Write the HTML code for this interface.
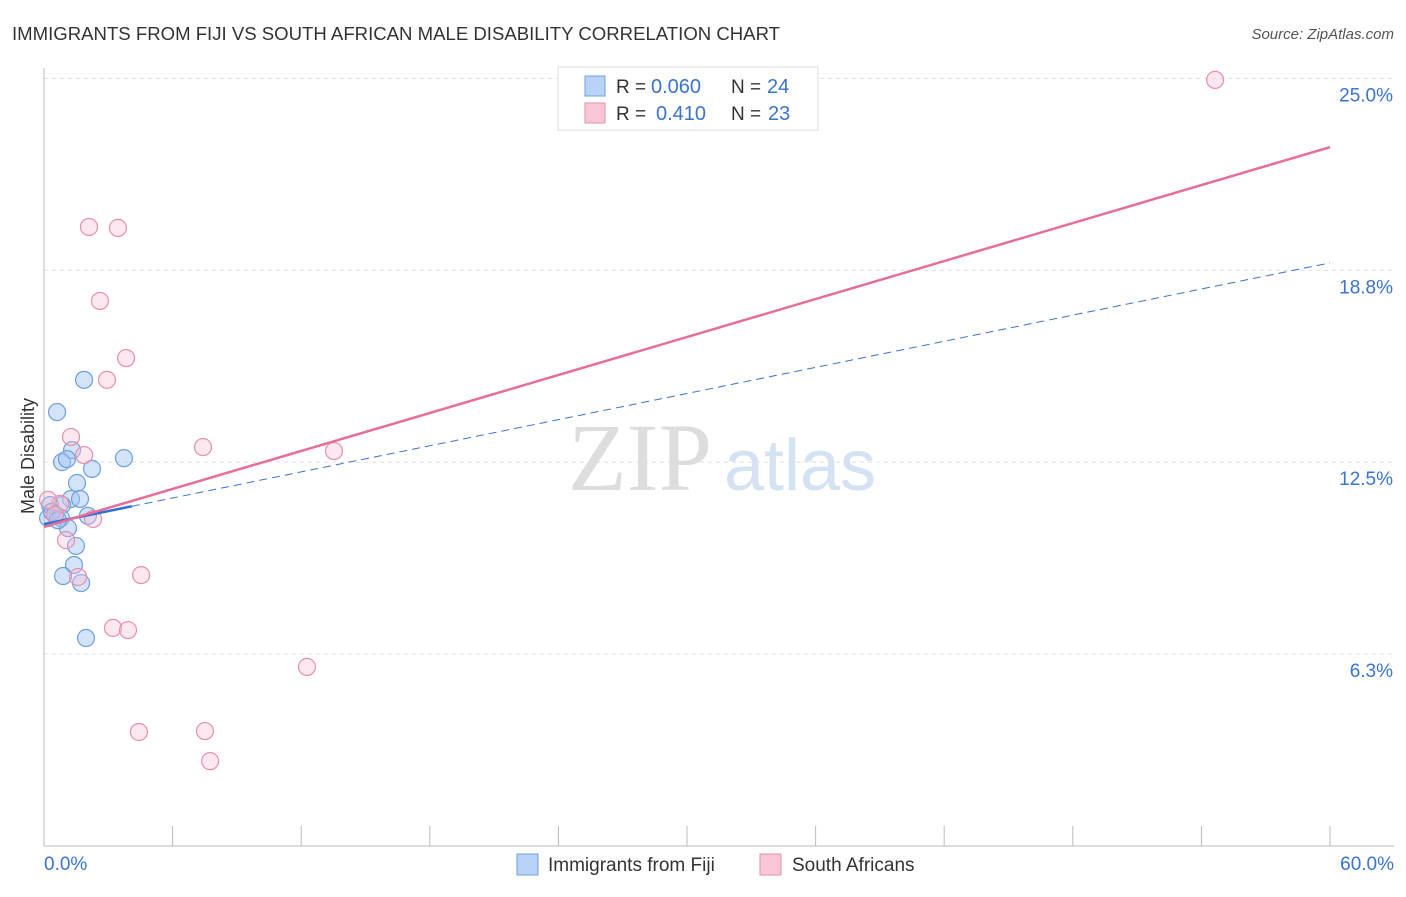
<!DOCTYPE html>
<html><head><meta charset="utf-8"><style>
body{margin:0;background:#fff;font-family:"Liberation Sans",sans-serif;}
</style></head><body>
<svg id="c" width="1406" height="892" xmlns="http://www.w3.org/2000/svg">
<text x="12" y="40" font-size="18" fill="#333" textLength="768" lengthAdjust="spacingAndGlyphs">IMMIGRANTS FROM FIJI VS SOUTH AFRICAN MALE DISABILITY CORRELATION CHART</text>
<text x="1394" y="39" font-size="15" fill="#555" font-style="italic" text-anchor="end">Source: ZipAtlas.com</text>
<text x="640" y="490" font-size="96" fill="#ddd" font-family="Liberation Serif,serif" text-anchor="middle">ZIP</text>
<text x="800" y="490" font-size="72" fill="#d4e2f4" text-anchor="middle">atlas</text>
<g id="grid"></g><g id="axes"></g><g id="marks"></g>
<text transform="translate(34,456) rotate(-90)" font-size="18" fill="#333" text-anchor="middle">Male Disability</text>
<g>
<rect x="558" y="67" width="260" height="63" fill="#fff" stroke="#ddd"/>
<rect x="585" y="76" width="20" height="20" fill="#b8d3f5" stroke="#6f9fe0"/>
<rect x="585" y="103" width="20" height="20" fill="#f8c6d6" stroke="#e98fac"/>
<text x="616" y="93" font-size="19" fill="#333">R =</text>
<text x="651" y="93" font-size="20" fill="#3a73d1">0.060</text>
<text x="731" y="93" font-size="19" fill="#333">N =</text>
<text x="767" y="93" font-size="20" fill="#3a73d1">24</text>
<text x="616" y="120" font-size="19" fill="#333">R =</text>
<text x="656" y="120" font-size="20" fill="#3a73d1">0.410</text>
<text x="731" y="120" font-size="19" fill="#333">N =</text>
<text x="768" y="120" font-size="20" fill="#3a73d1">23</text>
</g>
<g>
<rect x="517" y="854" width="21" height="21" fill="#b8d3f5" stroke="#6f9fe0"/>
<text x="548" y="871" font-size="19" fill="#333">Immigrants from Fiji</text>
<rect x="760" y="854" width="21" height="21" fill="#f8c6d6" stroke="#e98fac"/>
<text x="792" y="871" font-size="19" fill="#333">South Africans</text>
</g>
</svg>
<script>
const yTicks=[25.0,18.8,12.5,6.3];
const yTickVals=[25,18.75,12.5,6.25];
const xTickLabels=["0.0%","60.0%"];
const fijiX=[1.87,0.61,1.31,0.84,1.07,2.24,3.73,1.54,1.26,1.68,0.28,0.84,0.51,0.19,0.79,2.05,1.12,1.49,1.40,0.89,1.73,1.96,0.37,0.65];
const fijiY=[15.18,14.13,12.89,12.50,12.60,12.28,12.63,11.82,11.30,11.30,11.10,11.10,10.78,10.68,10.68,10.75,10.35,9.77,9.15,8.79,8.56,6.77,10.88,10.61];
const saX=[54.64,2.10,3.45,2.61,3.83,2.94,1.26,1.87,7.42,13.53,0.75,0.19,2.29,1.03,1.59,4.53,3.22,3.92,12.27,4.43,7.51,7.75,0.51];
const saY=[24.95,20.16,20.13,17.75,15.89,15.18,13.32,12.73,12.99,12.86,11.14,11.27,10.65,9.96,8.76,8.82,7.10,7.03,5.83,3.71,3.74,2.76,10.78];
const fijiTrend=[10.48,18.99];
const saTrend=[10.39,22.76];
const fijiSolidEnd=4.1;
const X=v=>44+v/60*1286, Y=v=>654-(v-6.25)*30.7;
const NS="http://www.w3.org/2000/svg";
function mk(p,t,a){const e=document.createElementNS(NS,t);for(const k in a)e.setAttribute(k,a[k]);document.getElementById(p).appendChild(e);return e;}
yTickVals.forEach((v,i)=>{
 const l=mk('grid','line',{x1:44,x2:1394,y1:Y(v),y2:Y(v),stroke:'#ddd','stroke-dasharray':'4,4'});
 
 
 const t=mk('grid','text',{x:1393,y:Y(v)+23,'font-size':19,fill:'#3a73d1','text-anchor':'end'});t.textContent=yTicks[i].toFixed(1)+'%';
 
 
});
let a=mk('axes','line',{x1:44,x2:44,y1:68,y2:846,stroke:'#bbb'});


a=mk('axes','line',{x1:44,x2:1394,y1:846,y2:846,stroke:'#bbb'});


for(let i=0;i<=10;i++){const t=mk('axes','line',{x1:X(i*6),x2:X(i*6),y1:826,y2:846,stroke:'#bbb'});
 
 }
[[0,"start",44],[60,"end",1394]].forEach((d,i)=>{const t=mk('axes','text',{x:d[2],y:870,'font-size':19,fill:'#3a73d1','text-anchor':d[1]});t.textContent=xTickLabels[i];
 
 });
fijiX.forEach((x,i)=>{const c=mk('marks','circle',{cx:X(x),cy:Y(fijiY[i]),r:8.5,fill:'rgba(160,195,240,0.45)',stroke:'#6f9fe0','stroke-width':1.2});
 
 });
saX.forEach((x,i)=>{const c=mk('marks','circle',{cx:X(x),cy:Y(saY[i]),r:8.5,fill:'rgba(248,190,210,0.35)',stroke:'#e98fac','stroke-width':1.2});
 
 });
const fy=x=>fijiTrend[0]+(fijiTrend[1]-fijiTrend[0])*x/60;
let l=mk('marks','line',{x1:X(fijiSolidEnd),y1:Y(fy(fijiSolidEnd)),x2:X(60),y2:Y(fijiTrend[1]),stroke:'#3a73d1','stroke-width':1,'stroke-dasharray':'8,5'});


l=mk('marks','line',{x1:X(0),y1:Y(fijiTrend[0]),x2:X(fijiSolidEnd),y2:Y(fy(fijiSolidEnd)),stroke:'#2f6fd6','stroke-width':2.5});


l=mk('marks','line',{x1:X(0),y1:Y(saTrend[0]),x2:X(60),y2:Y(saTrend[1]),stroke:'#e56f98','stroke-width':2.5});


</script>
</body></html>
